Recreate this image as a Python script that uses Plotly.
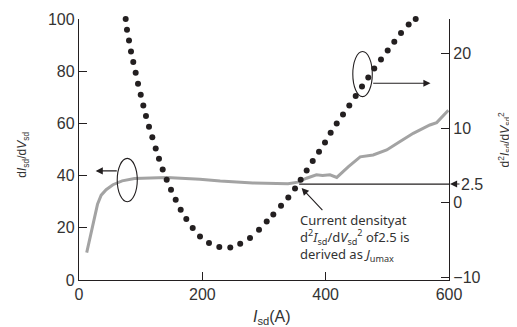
import plotly.graph_objects as go

# Gray line: dIsd/dVsd (left axis)
line_x = [12.5, 30, 36, 44, 55, 70, 90, 120, 142, 196, 229, 282, 339, 355, 369, 385,
          395, 407, 418, 437, 456, 477, 499, 520, 542, 569, 580, 599]
line_y = [10.5, 29.0, 32.5, 34.6, 36.5, 38.0, 38.9, 39.2, 39.3, 38.6, 37.9, 37.2, 36.9, 37.5,
          39.0, 40.3, 40.0, 40.3, 39.3, 43.4, 47.2, 47.9, 49.8, 53.0, 56.2, 59.4, 60.3, 65.0]

# Dotted curve: d2Isd/dVsd2 (right axis)
dot_x = [75.7, 77.8, 81.1, 84.3, 88.0, 91.9, 95.7, 100.1, 104.3, 108.6, 113.5, 118.9,
         124.4, 129.7, 135.7, 142.2, 149.2, 156.8, 164.9, 174.0, 184.4, 196.2, 210.8,
         227.5, 245.3, 261.4, 277.3, 291.9, 304.4, 315.1, 327.6, 339.4, 350.3, 359.5,
         369.2, 379.0, 389.2, 398.9, 408.1, 417.9, 428.1, 438.3, 448.7, 458.9, 469.1,
         478.8, 489.7, 500.6, 511.3, 522.2, 534.6, 546.0]
dot_y = [24.6, 23.16, 21.73, 20.25, 18.84, 17.40, 15.93, 14.46, 13.03, 11.61, 10.17, 8.77,
         7.27, 5.89, 4.46, 3.08, 1.74, 0.40, -0.94, -2.18, -3.39, -4.51, -5.39,
         -5.93, -6.00, -5.49, -4.73, -3.61, -2.50, -1.57, -0.40, 0.71, 1.91, 3.08,
         4.32, 5.58, 6.83, 8.07, 9.37, 10.62, 11.82, 13.03, 14.28, 15.57, 16.77,
         17.98, 19.18, 20.39, 21.55, 22.72, 23.87, 24.6]

x_ticks = [0, 200, 400, 600]
left_ticks = [0, 20, 40, 60, 80, 100]
right_ticks = [-10, 0, 10, 20]
jumax_level = 2.5

INK = "#231f20"
TXT = "#333333"
TICKFONT = dict(family="Liberation Sans, Arial, sans-serif", size=16, color=TXT)
TITLEFONT = dict(family="Liberation Sans, Arial, sans-serif", size=12, color=TXT)

fig = go.Figure()
fig.add_trace(go.Scatter(x=line_x, y=line_y, mode="lines",
                         line=dict(color="#a3a3a3", width=3), yaxis="y",
                         showlegend=False, hoverinfo="skip"))
fig.add_trace(go.Scatter(x=dot_x, y=dot_y, mode="markers",
                         marker=dict(color=INK, size=6), yaxis="y2",
                         showlegend=False, hoverinfo="skip", cliponaxis=False))

axis_common = dict(showline=True, linecolor=INK, linewidth=1.3, ticks="inside",
                   ticklen=8, tickcolor=INK, tickwidth=1.2, showgrid=False,
                   zeroline=False, tickfont=TICKFONT, automargin=False)

# The page body adds an 8px offset, so the figure is sized to fit the window.
fig.update_layout(
    width=509, height=319,
    margin=dict(l=71, r=68, t=11, b=47),
    plot_bgcolor="white", paper_bgcolor="white",
    xaxis=dict(range=[0, 600], tickvals=x_ticks, **axis_common),
    yaxis=dict(range=[0, 100], tickvals=left_ticks, **axis_common),
    yaxis2=dict(range=[-10.35, 24.6], tickvals=right_ticks, overlaying="y", side="right",
                anchor="x", **axis_common),
)

# axis titles
fig.add_annotation(x=0.5216, y=-0.145, xref="paper", yref="paper", showarrow=False,
                   xanchor="center", yanchor="middle",
                   text="<i>I</i><sub>sd</sub>(A)",
                   font=dict(family="Liberation Sans, Arial", size=16, color=TXT))
fig.add_annotation(x=-0.1514, y=0.48, xref="paper", yref="paper", showarrow=False,
                   xanchor="center", yanchor="middle", textangle=-90,
                   text="d<i>I</i><sub>sd</sub>/d<i>V</i><sub>sd</sub>", font=TITLEFONT)
fig.add_annotation(x=1.1514, y=0.535, xref="paper", yref="paper", showarrow=False,
                   xanchor="center", yanchor="middle", textangle=-90,
                   text="d<sup>2</sup><i>I</i><sub>sd</sub>/d<i>V</i><sub>sd</sub><sup>2</sup>",
                   font=TITLEFONT)

# horizontal line at d2I/dV2 = 2.5
fig.add_shape(type="line", xref="x", yref="y2", x0=357, x1=600,
              y0=jumax_level, y1=jumax_level, line=dict(color=INK, width=1.2))

# ellipses
fig.add_shape(type="circle", xref="x", yref="y", x0=62, x1=94.5, y0=30, y1=46.6,
              line=dict(color=INK, width=1.1))
fig.add_shape(type="circle", xref="x", yref="y2", x0=444, x1=475.6, y0=14.2, y1=20.25,
              line=dict(color=INK, width=1.1))

# arrows from ellipses
fig.add_annotation(x=27, y=41.8, xref="x", yref="y", ax=63.7, ay=41.8, axref="x", ayref="y",
                   text="", showarrow=True, arrowhead=2, arrowsize=1.3, arrowwidth=1.1,
                   arrowcolor=INK)
fig.add_annotation(x=570, y=16.0, xref="x", yref="y2", ax=474.6, ay=16.0, axref="x", ayref="y2",
                   text="", showarrow=True, arrowhead=2, arrowsize=1.3, arrowwidth=1.1,
                   arrowcolor=INK)

# 2.5 label with arrow to right axis
fig.add_annotation(x=1, y=jumax_level, xref="paper", yref="y2", ax=23, ay=0,
                   text="2.5", showarrow=True, arrowhead=2, arrowsize=1.3, arrowwidth=1.1,
                   arrowcolor=INK, standoff=1, font=TICKFONT)

# annotation text and arrow to the point
fig.add_annotation(x=361, y=1.97, xref="x", yref="y2", ax=397, ay=-1.2, axref="x", ayref="y2",
                   text="", showarrow=True, arrowhead=2, arrowsize=1.3, arrowwidth=1.1,
                   arrowcolor=INK)
fig.add_annotation(x=355, y=-4.7, xref="x", yref="y2", xanchor="left", yanchor="middle",
                   align="left", showarrow=False,
                   text="Current densityat<br>d<sup>2</sup><i>I</i><sub>sd</sub>/d<i>V</i><sub>sd</sub><sup>2</sup> of2.5 is<br>derived as <i>J</i><sub>umax</sub>",
                   font=dict(family="Noto Sans, sans-serif", size=13, color=TXT))

fig.write_html("out.html")
